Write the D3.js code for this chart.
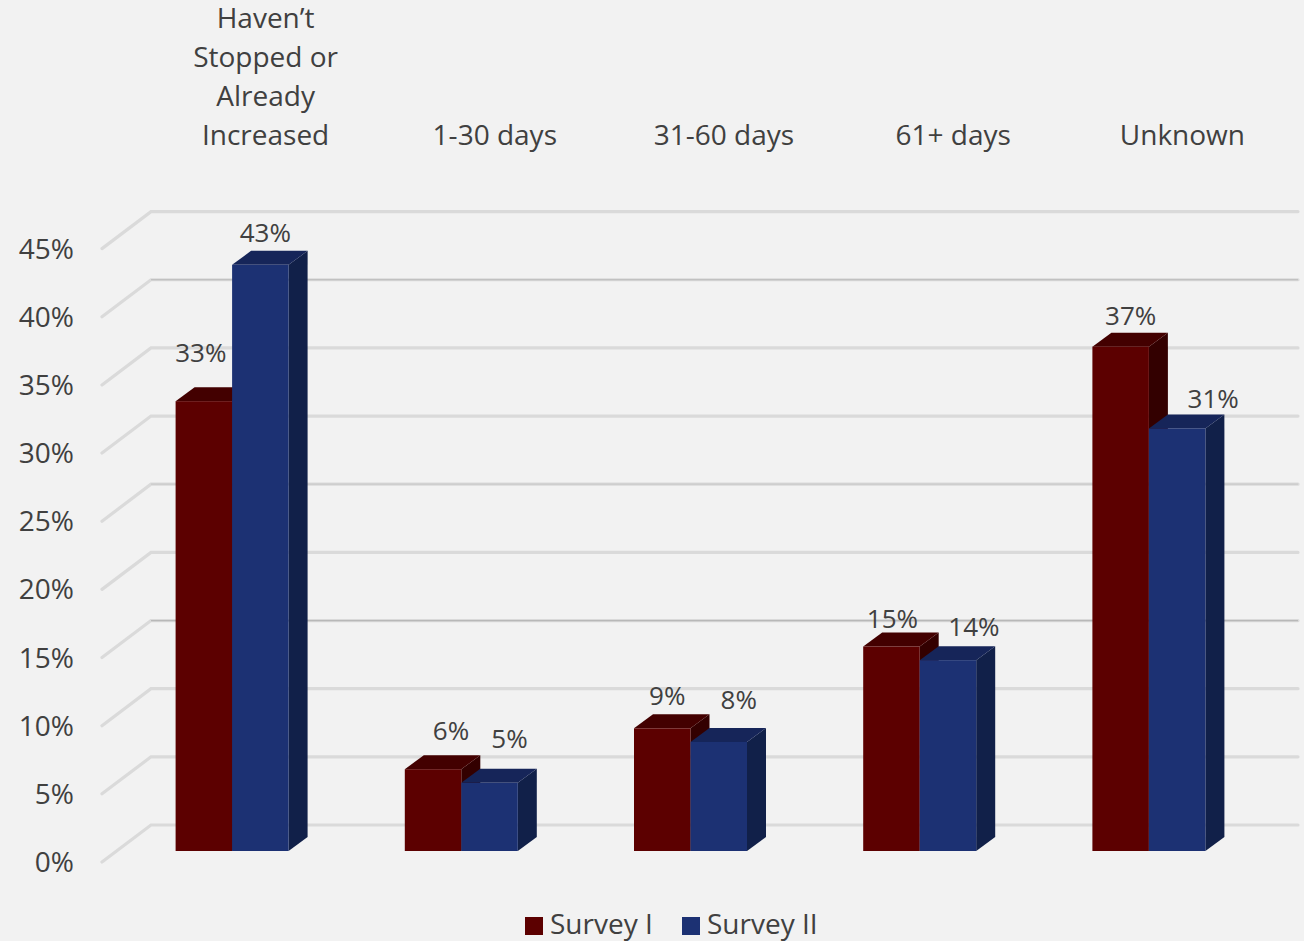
<!DOCTYPE html>
<html>
<head>
<meta charset="utf-8">
<script src="https://cdn.jsdelivr.net/npm/d3@7"></script>
<style>
  html, body { margin: 0; padding: 0; background: #f2f2f2; }
  svg { display: block; font-family: "Open Sans", sans-serif; }
  text { fill: #404040; }
</style>
</head>
<body>
<svg id="chart" width="1304" height="941"></svg>
<script>
// Response shares by time bucket, one array per survey wave
const categories = ["Haven\u2019t|Stopped or|Already|Increased", "1-30 days", "31-60 days", "61+ days", "Unknown"];
const seriesNames = ["Survey I", "Survey II"];
const surveyOne = [33, 6, 9, 15, 37];
const surveyTwo = [43, 5, 8, 14, 31];
const tickValues = [0, 5, 10, 15, 20, 25, 30, 35, 40, 45];
const darkerRules = [15, 25, 40];

// Hand placement of the value labels relative to their bars: [dx, dy]
const labelNudgeOne = [[-3, 48], [18, 38], [5, 32], [1, 28], [10, 31]];
const labelNudgeTwo = [[5, 32], [20, 44], [20, 42], [26, 33], [36, 30]];

const colours = [
  { front: "#5c0000", top: "#430000", side: "#330000" },
  { front: "#1c3173", top: "#162559", side: "#112049" }
];

const svg = d3.select("#chart");
const depthX = 19, depthY = 14;        // oblique offset of a bar's back face
const wallDX = 49, wallDY = 37;        // oblique offset of the back wall

const x = d3.scaleBand().domain(d3.range(categories.length)).range([151, 1297]);
const bar = d3.scaleBand().domain([0, 1]).range([-56.5, 56.5]);
const frontShift = -33.5;
const yBar = d3.scaleLinear().domain([0, 45]).range([851, 851 - 613.4]);
const yAxis = d3.scaleLinear().domain([0, 45]).range([862, 248.6]);

// Back wall: a floor-to-wall diagonal and a horizontal rule for each tick
const rulePath = d => {
  const y0 = yAxis(d);
  return d3.line()([[102, y0], [102 + wallDX, y0 - wallDY], [1298, y0 - wallDY]]);
};
const grid = svg.append("g").attr("fill", "none");
grid.selectAll("path.rule").data(tickValues).join("path")
  .attr("class", "rule")
  .attr("stroke", "#dadada")
  .attr("stroke-width", 3.2)
  .attr("stroke-linecap", "round")
  .attr("d", rulePath);
// A few rules carry a darker core on the horizontal run
grid.selectAll("line.core").data(darkerRules).join("line")
  .attr("class", "core")
  .attr("x1", 102 + wallDX).attr("x2", 1298)
  .attr("y1", d => yAxis(d) - wallDY)
  .attr("y2", d => yAxis(d) - wallDY)
  .attr("stroke", d => d === 25 ? "#cacaca" : "#b8b8b8")
  .attr("stroke-width", 1.2);

// Tick labels along the front edge
const axis = d3.axisLeft(yAxis).tickValues(tickValues).tickFormat(d => d + "%").tickSize(0).tickPadding(0);
const axisG = svg.append("g").attr("transform", "translate(74,0.5)").call(axis);
axisG.select(".domain").remove();
axisG.selectAll("text").attr("font-size", 28).attr("font-family", '"Open Sans", sans-serif').attr("fill", "#404040");

// Category headings, anchored on their last line
const heads = svg.append("g").attr("text-anchor", "middle").attr("font-size", 28);
categories.forEach((c, i) => {
  const lines = c.split("|");
  lines.forEach((line, j) => {
    heads.append("text")
      .attr("x", x(i) + x.bandwidth() / 2)
      .attr("y", 135 - (lines.length - 1 - j) * 39)
      .attr("dy", "0.35em")
      .text(line);
  });
});

// Extruded bars, Survey I first so Survey II overlaps its side face
[surveyOne, surveyTwo].forEach((values, s) => {
  const g = svg.append("g");
  values.forEach((v, i) => {
    const left = x(i) + x.bandwidth() / 2 + frontShift + bar(s);
    const w = bar.bandwidth();
    const top = yBar(v), base = yBar(0);
    const c = colours[s];
    g.append("path").attr("fill", c.side).attr("d", d3.line()([
      [left + w, top], [left + w + depthX, top - depthY], [left + w + depthX, base - depthY], [left + w, base]
    ]));
    g.append("path").attr("fill", c.top).attr("d", d3.line()([
      [left, top], [left + depthX, top - depthY], [left + w + depthX, top - depthY], [left + w, top]
    ]));
    g.append("rect").attr("fill", c.front).attr("x", left).attr("y", top).attr("width", w).attr("height", base - top);
  });
});

// Value labels
const labels = svg.append("g").attr("text-anchor", "middle").attr("font-size", 26);
[[surveyOne, labelNudgeOne], [surveyTwo, labelNudgeTwo]].forEach(([values, nudge], s) => {
  values.forEach((v, i) => {
    labels.append("text")
      .attr("x", x(i) + x.bandwidth() / 2 + frontShift + bar(s) + bar.bandwidth() / 2 + nudge[i][0])
      .attr("y", yBar(v) - nudge[i][1])
      .attr("dy", "0.35em")
      .text(v + "%");
  });
});

// Legend
const legend = svg.append("g").attr("font-size", 28);
[525, 682].forEach((lx, i) => {
  legend.append("rect").attr("x", lx).attr("y", 917).attr("width", 18).attr("height", 18).attr("fill", colours[i].front);
  legend.append("text").attr("x", lx + 25).attr("y", 924).attr("dy", "0.35em").text(seriesNames[i]);
});
</script>
</body>
</html>
